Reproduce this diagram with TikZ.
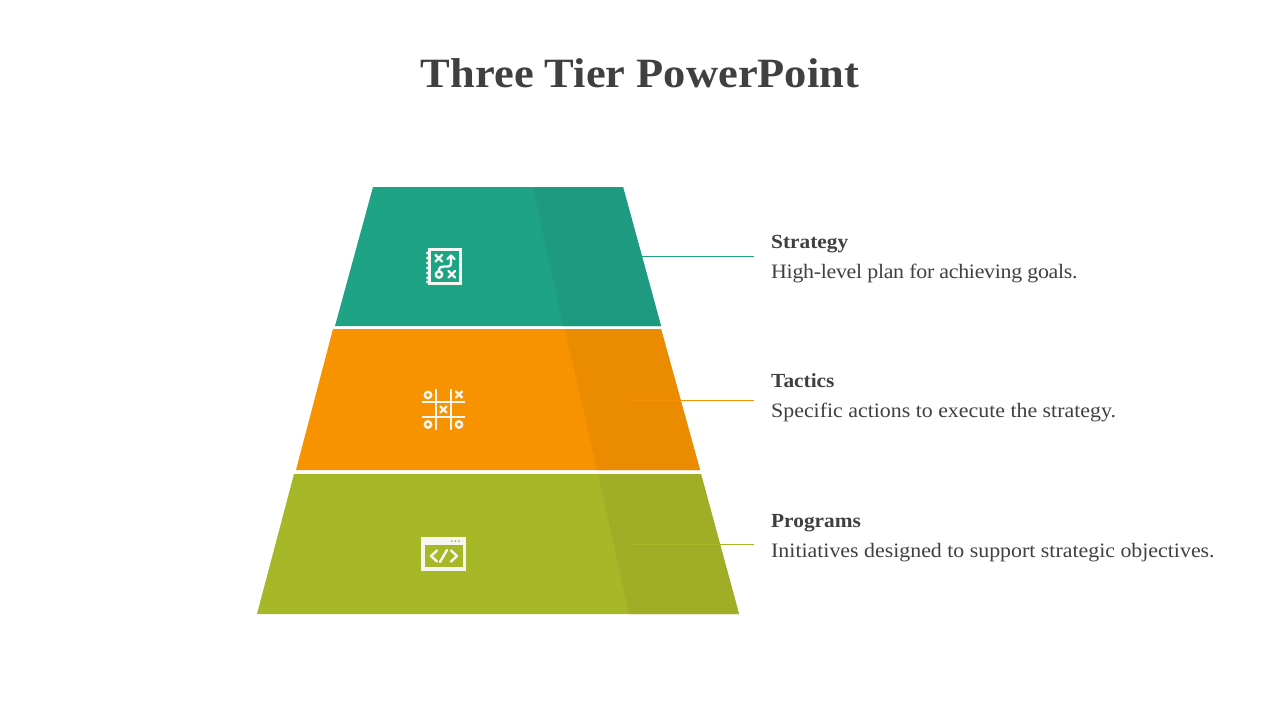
\documentclass[tikz,border=0pt]{standalone}
\usepackage{fontspec}
\setmainfont{Liberation Serif}[FakeStretch=1.067]
\definecolor{ink}{HTML}{404040}
\definecolor{tealA}{HTML}{1FA385}
\definecolor{tealB}{HTML}{1D9A80}
\definecolor{orangeA}{HTML}{F79200}
\definecolor{orangeB}{HTML}{EA8B00}
\definecolor{oliveA}{HTML}{A6B828}
\definecolor{oliveB}{HTML}{A0AE27}
\definecolor{iconwhite}{HTML}{F6F6F2}
\tikzset{
  titletext/.style={anchor=base,inner sep=0pt,text=ink,font=\fontsize{41.7}{48}\selectfont\bfseries},
  headtext/.style={anchor=base west,inner sep=0pt,text=ink,font=\fontsize{20}{24}\selectfont\bfseries},
  bodytext/.style={anchor=base west,inner sep=0pt,text=ink,font=\fontsize{20.5}{25}\selectfont},
  leader/.style={line width=1pt},
  iconline/.style={draw=iconwhite,line width=3pt,line cap=butt},
  gridline/.style={draw=iconwhite,line width=2.2pt,line cap=butt},
  iconthin/.style={draw=iconwhite,line width=2.4pt,line cap=round,line join=round}
}
\begin{document}
\begin{tikzpicture}[x=1pt,y=-1pt]
\path[use as bounding box,fill=white] (0,0) rectangle (1280,720);
\node[titletext] (title) at (640,87) {Three Tier PowerPoint};
% tiers
\fill[tealA] (373,187) -- (623,187) -- (661,326) -- (335,326) -- cycle;
\fill[tealB] (533,187) -- (623,187) -- (661,326) -- (563,326) -- cycle;
\fill[orangeA] (333,329) -- (661,329) -- (700,470) -- (296,470) -- cycle;
\fill[orangeB] (565,329) -- (661,329) -- (700,470) -- (597,470) -- cycle;
\fill[oliveA] (294,474) -- (701,474) -- (739,614) -- (257,614) -- cycle;
\fill[oliveB] (598,474) -- (701,474) -- (739,614) -- (629,614) -- cycle;
% leaders
\coordinate (l1a) at (641,256.5); \coordinate (l1b) at (754,256.5);
\coordinate (l2a) at (631,400.5); \coordinate (l2b) at (754,400.5);
\coordinate (l3a) at (631,544.5); \coordinate (l3b) at (754,544.5);
\draw[leader,tealA] (l1a) -- (l1b);
\draw[leader,orangeA] (l2a) -- (l2b);
\draw[leader,oliveA] (l3a) -- (l3b);
% text
\node[headtext] (h1) at (771,248) {Strategy};
\node[bodytext] (b1) at (771,278) {\addfontfeatures{LetterSpace=-1.4}High-level plan for achieving goals.};
\node[headtext] (h2) at (771,387) {Tactics};
\node[bodytext] (b2) at (771,417) {Specific actions to execute the strategy.};
\node[headtext] (h3) at (771,527) {Programs};
\node[bodytext] (b3) at (771,557) {Initiatives designed to support strategic objectives.};
% icon 1: playbook
\draw[iconline] (429.5,249.5) rectangle (460.5,283.5);
\foreach \yy in {253,258,263,268,273,278,282}
  \fill[iconwhite] (427.4,\yy) circle (1.5);
\draw[iconthin] (435.5,255) -- (442,261.5) (442,255) -- (435.5,261.5);
\draw[iconthin] (448.5,271) -- (455,277.5) (455,271) -- (448.5,277.5);
\draw[iconthin] (439,274.5) circle (3.2);
\draw[iconthin] (439,271) .. controls (439,267) and (441,266.5) .. (444,266.5) -- (448,266.5) .. controls (450.5,266.5) and (451,265) .. (451,263) -- (451,256);
\draw[iconthin] (447.5,259) -- (451,255.5) -- (454.5,259);
% icon 2: tic tac toe
\draw[gridline] (436,389) -- (436,430) (451,389) -- (451,430) (422,402) -- (465,402) (422,417) -- (465,417);
\draw[iconthin] (428,395) circle (3.2) (428,424.5) circle (3.2) (459,424.5) circle (3.2);
\draw[iconthin] (456,391.5) -- (462,397.5) (462,391.5) -- (456,397.5);
\draw[iconthin] (440.5,406.5) -- (446.5,412.5) (446.5,406.5) -- (440.5,412.5);
% icon 3: code window
\fill[iconwhite] (421,537) rectangle (466,570.5);
\fill[oliveA] (424.5,545) rectangle (462.5,567);
\fill[oliveA] (452,541) circle (1) (455.5,541) circle (1) (459,541) circle (1);
\draw[iconthin] (437,550.5) -- (431,556) -- (437,561.5);
\draw[iconthin] (447,550) -- (440,562);
\draw[iconthin] (451,550.5) -- (457,556) -- (451,561.5);
\end{tikzpicture}
\end{document}
